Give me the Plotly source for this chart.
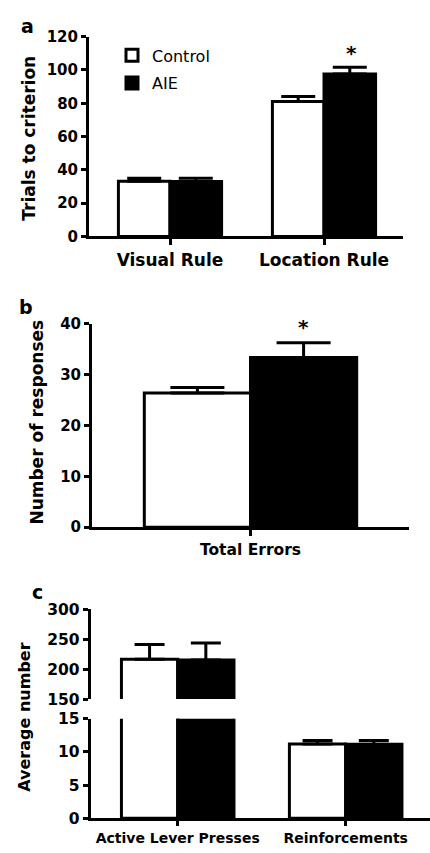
import plotly.graph_objects as go

# ---------------- data ----------------
cats_a = ["Visual Rule", "Location Rule"]
control_a = [33.1, 81.0]
control_a_err = [1.8, 3.0]
aie_a = [33.0, 97.6]
aie_a_err = [2.0, 4.0]

cats_b = ["Total Errors"]
control_b = [26.4]
control_b_err = [1.1]
aie_b = [33.4]
aie_b_err = [2.9]

cats_c = ["Active Lever Presses", "Reinforcements"]
control_c = [216.6, 11.2]
control_c_err = [24.5, 0.5]
aie_c = [215.4, 11.15]
aie_c_err = [28.3, 0.55]

W, H = 430, 853
FONT = "DejaVu Sans"


def px_x(p):
    return p / W


def px_y(p):
    return 1 - p / H


fig = go.Figure()

WHITE = dict(color="white", line=dict(color="black", width=3))
BLACK = dict(color="black", line=dict(color="black", width=3))


def err(arr, w):
    return dict(type="data", symmetric=False, array=arr, arrayminus=[0] * len(arr),
                color="black", thickness=3, width=w)


# panel a
fig.add_bar(x=cats_a, y=control_a, error_y=err(control_a_err, 17), marker=WHITE,
            name="Control", xaxis="x", yaxis="y", legendgroup="g1", showlegend=True)
fig.add_bar(x=cats_a, y=aie_a, error_y=err(aie_a_err, 17), marker=BLACK,
            name="AIE", xaxis="x", yaxis="y", legendgroup="g2", showlegend=True)

# panel b
fig.add_bar(x=cats_b, y=control_b, error_y=err(control_b_err, 27), marker=WHITE,
            name="Control", xaxis="x2", yaxis="y2", showlegend=False)
fig.add_bar(x=cats_b, y=aie_b, error_y=err(aie_b_err, 27), marker=BLACK,
            name="AIE", xaxis="x2", yaxis="y2", showlegend=False)

# panel c (broken axis: lower y3 0-15, upper y4 150-300)
fig.add_bar(x=cats_c, y=control_c, error_y=err(control_c_err, 15), marker=WHITE,
            name="Control", xaxis="x3", yaxis="y3", showlegend=False)
fig.add_bar(x=cats_c, y=aie_c, error_y=err(aie_c_err, 15), marker=BLACK,
            name="AIE", xaxis="x3", yaxis="y3", showlegend=False)
fig.add_bar(x=cats_c, y=control_c, error_y=err(control_c_err, 15), marker=WHITE,
            name="Control", xaxis="x3", yaxis="y4", showlegend=False)
fig.add_bar(x=cats_c, y=aie_c, error_y=err(aie_c_err, 15), marker=BLACK,
            name="AIE", xaxis="x3", yaxis="y4", showlegend=False)

axcommon = dict(showline=True, linewidth=3, linecolor="black", ticks="outside",
                tickwidth=3, tickcolor="black", showgrid=False, zeroline=False,
                fixedrange=True)

fig.update_layout(
    width=W, height=H,
    margin=dict(l=0, r=0, t=0, b=0),
    paper_bgcolor="white", plot_bgcolor="white",
    barmode="group", bargap=0.33, bargroupgap=0,
    font=dict(family=FONT, color="black"),
    xaxis=dict(**axcommon, domain=[px_x(89), px_x(403)], range=[-0.526, 1.513],
               anchor="y", ticklen=6,
               tickfont=dict(family=FONT, size=17, weight="bold")),
    yaxis=dict(**axcommon, domain=[px_y(232.3), px_y(28.3)], range=[0, 120], dtick=20,
               anchor="x", ticklen=5,
               tickfont=dict(family=FONT, size=15, weight="bold")),
    xaxis2=dict(**axcommon, domain=[px_x(92), px_x(409)], range=[-0.5, 0.5],
                anchor="y2", ticklen=6,
                tickfont=dict(family=FONT, size=15.5, weight="bold")),
    yaxis2=dict(**axcommon, domain=[px_y(529.3), px_y(321.7)], range=[0, 40], dtick=10,
                anchor="x2", ticklen=5,
                tickfont=dict(family=FONT, size=15, weight="bold")),
    xaxis3=dict(**axcommon, domain=[px_x(90.7), 1.0], range=[-0.518, 1.502],
                anchor="y3", ticklen=5,
                tickfont=dict(family=FONT, size=14, weight="bold")),
    yaxis3=dict(**axcommon, domain=[px_y(826.7), px_y(725)], range=[0, 15], dtick=5,
                anchor="x3", ticklen=5,
                tickfont=dict(family=FONT, size=15.5, weight="bold")),
    yaxis4=dict(**axcommon, domain=[px_y(705), px_y(613.3)], range=[150, 300],
                tickvals=[150, 200, 250, 300], anchor="x3", ticklen=5,
                tickfont=dict(family=FONT, size=15.5, weight="bold")),
    legend=dict(x=px_x(112), y=px_y(30), xanchor="left", yanchor="top",
                bgcolor="rgba(0,0,0,0)", font=dict(family=FONT, size=16),
                tracegroupgap=4, itemwidth=30),
)

ann = []
# panel letters
for letter, x, y in [("a", 27, 17), ("b", 26, 304), ("c", 37, 596)]:
    ann.append(dict(text=letter, x=px_x(x), y=px_y(y), xref="paper", yref="paper",
                    showarrow=False, xanchor="center", yanchor="middle",
                    font=dict(family=FONT, size=19, weight="bold")))
# y titles
for title, x, y, size in [("Trials to criterion", 29.5, 132, 17),
                          ("Number of responses", 37.5, 422, 17),
                          ("Average number", 25, 724, 16)]:
    ann.append(dict(text=title, x=px_x(x), y=px_y(y), xref="paper", yref="paper",
                    showarrow=False, textangle=-90, xanchor="center", yanchor="middle",
                    font=dict(family=FONT, size=size, weight="bold")))
# significance asterisks above AIE bars
ann.append(dict(text="*", x=cats_a[1], y=aie_a[1] + aie_a_err[1], xref="x", yref="y",
                xshift=27, yshift=14, showarrow=False, yanchor="middle",
                font=dict(family=FONT, size=20, weight="bold")))
ann.append(dict(text="*", x=cats_b[0], y=aie_b[0] + aie_b_err[0], xref="x2", yref="y2",
                xshift=53, yshift=16, showarrow=False, yanchor="middle",
                font=dict(family=FONT, size=20, weight="bold")))
fig.update_layout(annotations=ann)

fig.write_html("out.html",
               config={"displayModeBar": False, "staticPlot": True},
               post_script="document.body.style.margin='0';document.body.style.overflow='hidden';")
